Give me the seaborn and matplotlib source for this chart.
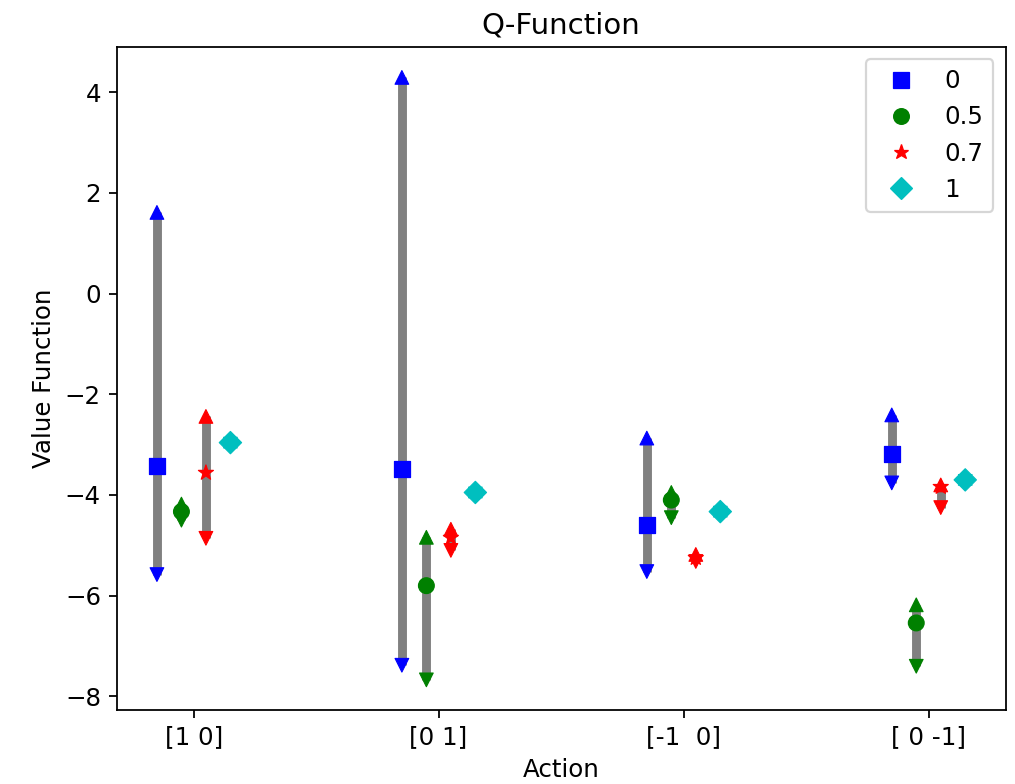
import seaborn as sns
import matplotlib.pyplot as plt
import pandas as pd
import numpy as np

# actions on the x axis and lambda groups
actions = ["[1 0]", "[0 1]", "[-1  0]", "[ 0 -1]"]
lambdas = ["0", "0.5", "0.7", "1"]

# mean / max / min value per lambda, one entry per action
mean_vals = {
    "0":   [-3.42, -3.48, -4.59, -3.18],
    "0.5": [-4.33, -5.80, -4.10, -6.54],
    "0.7": [-3.56, -4.85, -5.25, -3.84],
    "1":   [-2.96, -3.95, -4.33, -3.70],
}
max_vals = {
    "0":   [1.61, 4.29, -2.87, -2.41],
    "0.5": [-4.18, -4.84, -3.95, -6.18],
    "0.7": [-2.44, -4.68, -5.18, -3.80],
    "1":   [-2.93, -3.92, -4.30, -3.67],
}
min_vals = {
    "0":   [-5.58, -7.38, -5.52, -3.76],
    "0.5": [-4.50, -7.67, -4.45, -7.40],
    "0.7": [-4.86, -5.10, -5.32, -4.25],
    "1":   [-2.99, -3.98, -4.36, -3.73],
}

colors = {"0": "b", "0.5": "g", "0.7": "r", "1": "c"}
markers = {"0": "s", "0.5": "o", "0.7": "*", "1": "D"}
offsets = [-0.15, -0.05, 0.05, 0.15]

rows = []
for lam, off in zip(lambdas, offsets):
    for i, act in enumerate(actions):
        rows.append({"pos": i + off, "lambda": lam,
                     "mean": mean_vals[lam][i],
                     "max": max_vals[lam][i],
                     "min": min_vals[lam][i]})
df = pd.DataFrame(rows)

plt.rcParams["font.size"] = 11

fig = plt.figure(figsize=(1015 / 160, 784 / 160), dpi=160)
ax = fig.add_axes([0.1148, 0.0944, 0.876, 0.8453])

# grey range bars
ax.vlines(df["pos"], df["min"], df["max"], colors="grey", linewidth=4, zorder=1)

# max / min triangles
sns.scatterplot(data=df, x="pos", y="max", hue="lambda", hue_order=lambdas,
                palette=colors, marker="^", s=38, edgecolor="face",
                legend=False, ax=ax, zorder=2)
sns.scatterplot(data=df, x="pos", y="min", hue="lambda", hue_order=lambdas,
                palette=colors, marker="v", s=38, edgecolor="face",
                legend=False, ax=ax, zorder=2)

# means
sns.scatterplot(data=df, x="pos", y="mean", hue="lambda", style="lambda",
                hue_order=lambdas, style_order=lambdas, palette=colors,
                markers=markers, s=50, edgecolor="face", ax=ax, zorder=3)

ax.set_xticks(range(len(actions)))
ax.set_xticklabels(actions)
ax.set_title("Q-Function")
ax.set_xlabel("Action")
ax.set_ylabel("Value Function")
sns.move_legend(ax, "upper right", title=None, frameon=True)

fig.savefig("out.png", dpi=160)
plt.close(fig)
